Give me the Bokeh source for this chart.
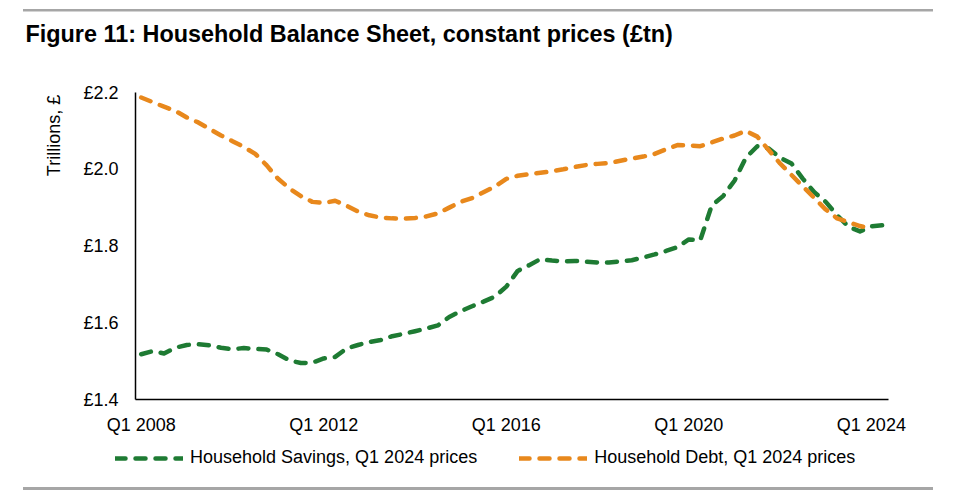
import math
from bokeh.plotting import figure
from bokeh.models import (FixedTicker, PrintfTickFormatter, Range1d, Legend,
                          LegendItem, Label, Div)
from bokeh.layouts import column, row
from bokeh.embed import file_html
from bokeh.resources import INLINE

NAN = float("nan")

# Quarterly categories, Q1 2008 .. Q2 2024
quarters = [f"Q{q} {y}" for y in range(2008, 2025) for q in range(1, 5)][:66]

# Household savings, Q1 2024 prices (£tn)
savings = [
    1.518, 1.526, 1.520, 1.535, 1.542, 1.544, 1.541, 1.535, 1.531, 1.534,
    1.532, 1.530, 1.518, 1.502, 1.495, 1.496, 1.507, 1.511, 1.533, 1.542,
    1.550, 1.555, 1.565, 1.571, 1.578, 1.585, 1.593, 1.615, 1.630, 1.643,
    1.655, 1.668, 1.694, 1.735, 1.750, 1.766, 1.762, 1.760, 1.761, 1.759,
    1.757, 1.757, 1.760, 1.763, 1.770, 1.778, 1.787, 1.797, 1.817, 1.815,
    1.905, 1.930, 1.970, 2.030, 2.060, 2.054, 2.030, 2.015, 1.975, 1.940,
    1.915, 1.880, 1.850, 1.838, 1.851, 1.854,
]

# Household debt, Q1 2024 prices (£tn)
debt = [
    2.187, 2.175, 2.163, 2.152, 2.135, 2.122, 2.105, 2.088, 2.073, 2.058,
    2.040, 2.010, 1.975, 1.950, 1.930, 1.915, 1.912, 1.918, 1.905, 1.890,
    1.880, 1.874, 1.872, 1.871, 1.873, 1.877, 1.885, 1.900, 1.915, 1.925,
    1.940, 1.955, 1.975, 1.983, 1.987, 1.991, 1.995, 2.000, 2.006, 2.011,
    2.014, 2.016, 2.022, 2.028, 2.033, 2.040, 2.052, 2.063, 2.062, 2.060,
    2.070, 2.080, 2.088, 2.100, 2.085, 2.050, 2.015, 1.985, 1.955, 1.925,
    1.895, 1.872, 1.862, 1.852, 1.845, NAN,
]

x_tick_labels = ["Q1 2008", "Q1 2012", "Q1 2016", "Q1 2020", "Q1 2024"]
y_ticks = [1.4, 1.6, 1.8, 2.0, 2.2]
series_labels = ["Household Savings, Q1 2024 prices", "Household Debt, Q1 2024 prices"]
heading = "Figure 11: Household Balance Sheet, constant prices (£tn)"
y_title = "Trillions, £"

GREEN = "#1E7B33"
ORANGE = "#E8881C"
TEXT = "#000000"
FONT = "Liberation Sans"
LINE_KW = dict(line_width=4.5, line_dash="10 10", line_cap="round", line_join="round")

idx = list(range(len(quarters)))
x_ticks = [quarters.index(lbl) for lbl in x_tick_labels]


def bare_figure(width, height):
    f = figure(width=width, height=height, output_backend="svg", toolbar_location=None,
               x_axis_location=None, y_axis_location=None,
               x_range=Range1d(0, 1), y_range=Range1d(0, 1),
               min_border_left=0, min_border_right=0, min_border_top=0,
               min_border_bottom=0)
    f.grid.visible = False
    f.outline_line_color = None
    return f


# ---- heading -------------------------------------------------------------
head = bare_figure(940, 70)
head.add_layout(Label(x=25, y=48, x_units="screen", y_units="screen", text=heading,
                      text_font=FONT, text_font_size="23.4px", text_font_style="bold",
                      text_color="black", text_baseline="alphabetic"))

# ---- y-axis title column (its frame is aligned with the chart's frame) -----
ytf = bare_figure(70, 359)
ytf.add_layout(Label(x=53, y=264, x_units="screen", y_units="screen", text=y_title,
                     angle=math.pi / 2, text_align="center", text_baseline="middle",
                     text_font=FONT, text_font_size="18px", text_color=TEXT))

# ---- main chart ------------------------------------------------------------
p = figure(width=870, height=359, output_backend="svg", toolbar_location=None,
           x_range=Range1d(-0.5, len(quarters) - 0.5), y_range=Range1d(1.4, 2.2),
           min_border_left=65, min_border_right=52, min_border_top=11,
           min_border_bottom=41)
p.grid.visible = False
p.outline_line_color = None

p.line(idx, savings, line_color=GREEN, **LINE_KW)
p.line(idx, debt, line_color=ORANGE, **LINE_KW)

xa = p.xaxis[0]
xa.ticker = FixedTicker(ticks=x_ticks)
xa.major_label_overrides = {t: l for t, l in zip(x_ticks, x_tick_labels)}
ya = p.yaxis[0]
ya.ticker = FixedTicker(ticks=y_ticks)
ya.formatter = PrintfTickFormatter(format="£%.1f")
for ax in (xa, ya):
    ax.axis_line_color = "black"
    ax.axis_line_width = 1.5
    ax.major_tick_line_color = None
    ax.minor_tick_line_color = None
    ax.major_tick_out = 0
    ax.major_tick_in = 0
    ax.minor_tick_out = 0
    ax.major_label_text_font = FONT
    ax.major_label_text_font_size = "18px"
    ax.major_label_text_color = TEXT
xa.major_label_standoff = 15
ya.major_label_standoff = 17

# ---- legend strip ----------------------------------------------------------
lg = bare_figure(940, 38)
r_sav = lg.line(idx, savings, line_color=GREEN, visible=False, **LINE_KW)
r_debt = lg.line(idx, debt, line_color=ORANGE, visible=False, **LINE_KW)
legend = Legend(items=[
    LegendItem(label=series_labels[0], renderers=[r_sav]),
    LegendItem(label=series_labels[1], renderers=[r_debt]),
], orientation="horizontal", location=(115, 10), glyph_width=68, glyph_height=20,
    label_text_font=FONT, label_text_font_size="18px", label_text_color=TEXT,
    border_line_color=None, background_fill_alpha=0, spacing=42,
    label_standoff=7, padding=0, margin=0)
lg.add_layout(legend)

# ---- grey rules ------------------------------------------------------------
bar = '<div style="width:910px;height:3px;background:#A6A6A6;margin-left:23px;margin-top:{m}px"></div>'
top_rule = Div(text=bar.format(m=8), width=940, height=11, margin=0)
bottom_rule = Div(text=bar.format(m=0), width=940, height=4, margin=0)

layout = column(top_rule, head, row(ytf, p, spacing=0), lg, bottom_rule, spacing=0)

open("out.html", "w").write(file_html(layout, INLINE))
